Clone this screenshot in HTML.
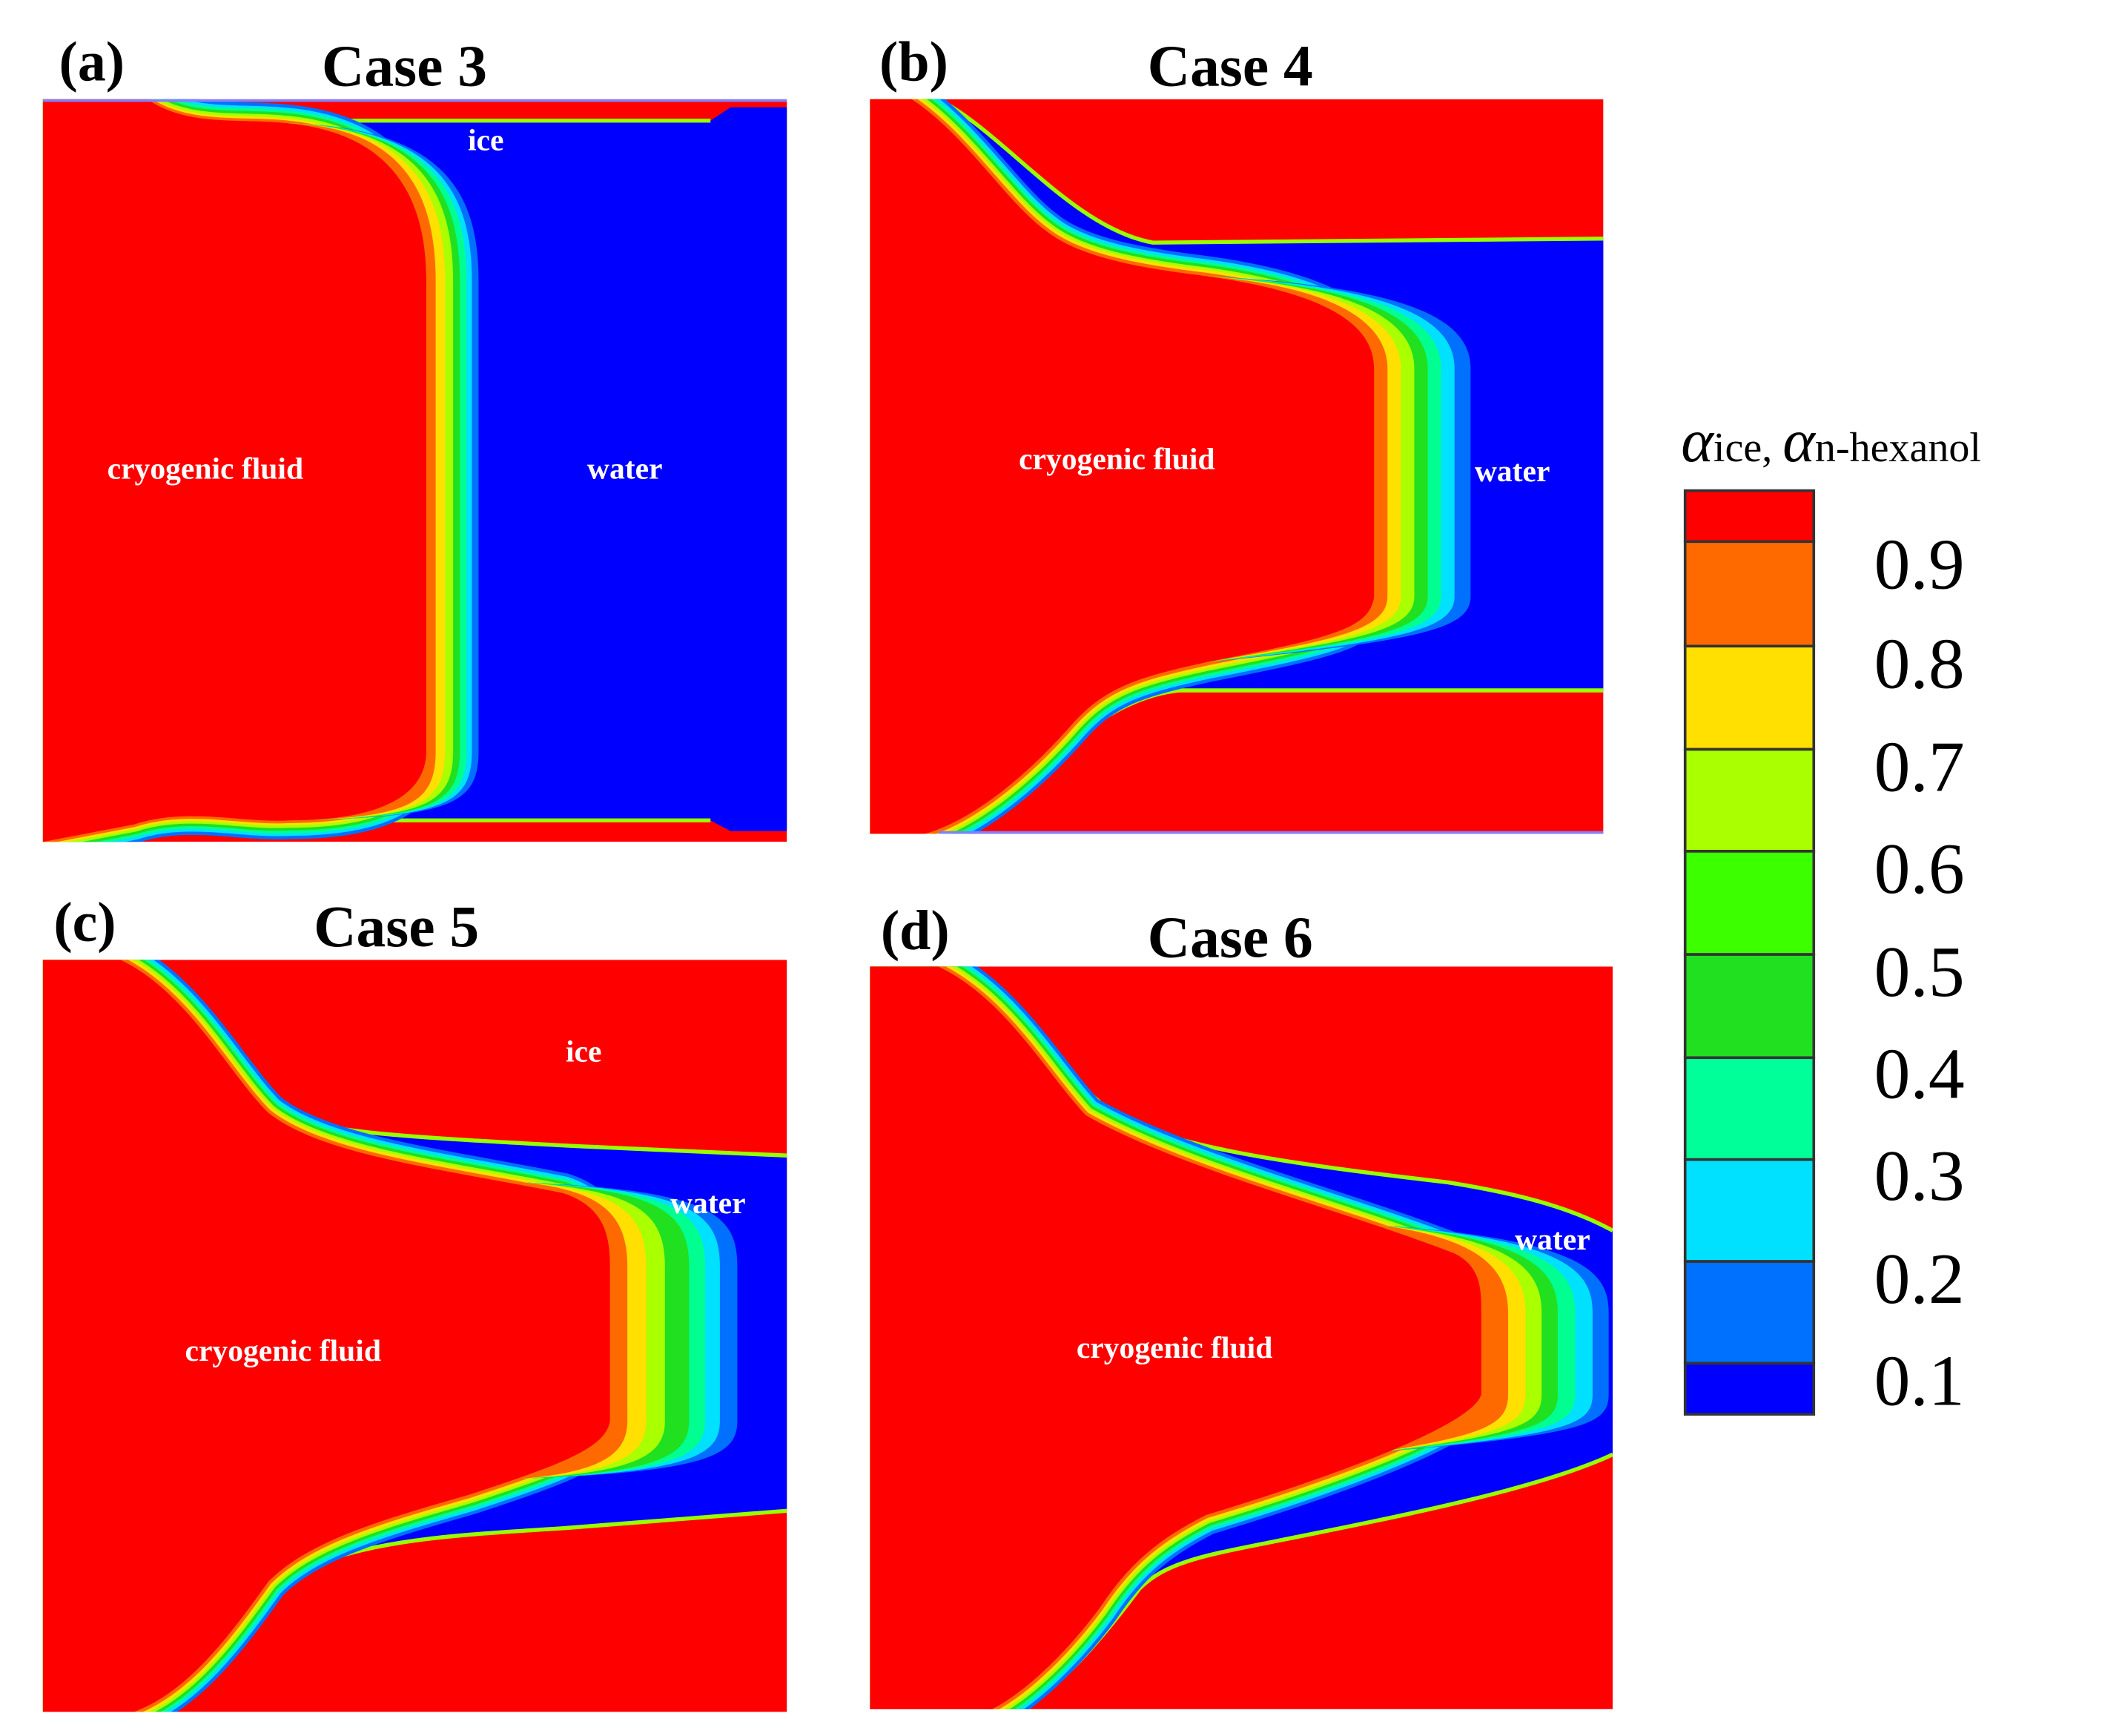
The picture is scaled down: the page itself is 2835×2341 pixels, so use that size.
<!DOCTYPE html>
<html><head><meta charset="utf-8"><style>
html,body{margin:0;padding:0;background:#fff}
svg{display:block}
</style></head><body>
<svg width="2835" height="2341" viewBox="0 0 1568 1295" preserveAspectRatio="none" xmlns="http://www.w3.org/2000/svg">
<defs>
<path id="ca" d="M32,74 L110,74 C140,95 180,88 215,92 C295,100 318,150 318,210 L318,560 C318,600 270,612 215,612 C180,614 140,602 100,615 L32,628 Z"/>
<path id="cb" d="M649,74 L680,74 C720,100 750,150 780,172 C805,192 850,200 900,206 C985,218 1025,240 1025,275 L1025,445 C1022,470 990,476 900,494 C850,505 825,512 800,540 C765,580 725,612 690,622 L649,622 Z"/>
<path id="cc" d="M32,716 L90,716 C140,740 170,800 200,830 C240,862 330,872 420,890 C450,900 455,920 455,945 L455,1060 C452,1080 420,1092 350,1115 C280,1135 230,1150 200,1180 C170,1222 140,1262 100,1277 L32,1277 Z"/>
<path id="cd" d="M649,721 L700,721 C750,745 780,800 810,832 C880,872 1000,902 1085,935 C1105,945 1105,962 1105,980 L1105,1040 C1100,1062 1000,1100 900,1130 C860,1150 840,1170 820,1200 C790,1240 760,1265 740,1275 L649,1275 Z"/>
<clipPath id="pa" clipPathUnits="userSpaceOnUse"><rect x="32" y="74" width="555" height="554"/></clipPath>
<clipPath id="pb" clipPathUnits="userSpaceOnUse"><rect x="649" y="74" width="547" height="548"/></clipPath>
<clipPath id="pc" clipPathUnits="userSpaceOnUse"><rect x="32" y="716" width="555" height="561"/></clipPath>
<clipPath id="pd" clipPathUnits="userSpaceOnUse"><rect x="649" y="721" width="554" height="554"/></clipPath>
</defs>
<rect width="1568" height="1295" fill="#fff"/>

<!-- Panel a -->
<g clip-path="url(#pa)">
<rect x="32" y="74" width="555" height="554" fill="#f00"/>
<path d="M215,90 L530,90 L545,80 L587,80 L587,620 L545,620 L530,612 L215,612 Z" fill="#0000ff"/>
<line x1="220" y1="90" x2="530" y2="90" stroke="#9f0" stroke-width="3"/>
<line x1="220" y1="612" x2="530" y2="612" stroke="#9f0" stroke-width="3"/>
<g fill="none">
<use href="#ca" stroke="#0070ff" stroke-width="28"/>
<use href="#ca" stroke="#00e0ff" stroke-width="23"/>
<use href="#ca" stroke="#00ff90" stroke-width="19"/>
<use href="#ca" stroke="#20e020" stroke-width="15"/>
<use href="#ca" stroke="#aaff00" stroke-width="11"/>
<use href="#ca" stroke="#ffe000" stroke-width="7"/>
<use href="#ca" stroke="#ff6a00" stroke-width="4"/>
</g>
<path fill="#0070ff" d="M215,92 C337,95 357,150 357,210 L357,560 C357,600 337,610 215,612 Z"/>
<path fill="#00e0ff" d="M215,92 C332,95 352,150 352,210 L352,560 C352,600 332,610 215,612 Z"/>
<path fill="#00ff90" d="M215,92 C328,95 348,150 348,210 L348,560 C348,600 328,610 215,612 Z"/>
<path fill="#20e020" d="M215,92 C323,95 343,150 343,210 L343,560 C343,600 323,610 215,612 Z"/>
<path fill="#aaff00" d="M215,92 C318,95 338,150 338,210 L338,560 C338,600 318,610 215,612 Z"/>
<path fill="#ffe000" d="M215,92 C312,95 332,150 332,210 L332,560 C332,600 312,610 215,612 Z"/>
<path fill="#ff6a00" d="M215,92 C305,95 325,150 325,210 L325,560 C325,600 305,610 215,612 Z"/>
<use href="#ca" fill="#f00"/>
<line x1="32" y1="75" x2="587" y2="75" stroke="#8080ff" stroke-width="2"/>
</g>

<!-- Panel b -->
<g clip-path="url(#pb)">
<rect x="649" y="74" width="547" height="548" fill="#f00"/>
<path d="M700,74 C750,100 800,170 860,181 L1196,178 L1196,515 L880,515 C830,520 790,560 760,590 C740,610 720,622 700,622 L649,622 L649,74 Z" fill="#0000ff"/>
<path d="M700,74 C750,100 800,170 860,181 L1196,178" fill="none" stroke="#9f0" stroke-width="3"/>
<path d="M1196,515 L880,515 C830,520 790,560 760,590 C740,610 720,622 700,622" fill="none" stroke="#9f0" stroke-width="3"/>
<g fill="none">
<use href="#cb" stroke="#0070ff" stroke-width="30"/>
<use href="#cb" stroke="#00e0ff" stroke-width="25"/>
<use href="#cb" stroke="#00ff90" stroke-width="21"/>
<use href="#cb" stroke="#20e020" stroke-width="17"/>
<use href="#cb" stroke="#aaff00" stroke-width="13"/>
<use href="#cb" stroke="#ffe000" stroke-width="9"/>
<use href="#cb" stroke="#ff6a00" stroke-width="5"/>
</g>
<path fill="#0070ff" d="M900,206 C1057,214 1097,240 1097,275 L1097,445 C1097,470 1057,478 900,494 Z"/>
<path fill="#00e0ff" d="M900,206 C1045,214 1085,240 1085,275 L1085,445 C1085,470 1045,478 900,494 Z"/>
<path fill="#00ff90" d="M900,206 C1035,214 1075,240 1075,275 L1075,445 C1075,470 1035,478 900,494 Z"/>
<path fill="#20e020" d="M900,206 C1025,214 1065,240 1065,275 L1065,445 C1065,470 1025,478 900,494 Z"/>
<path fill="#aaff00" d="M900,206 C1015,214 1055,240 1055,275 L1055,445 C1055,470 1015,478 900,494 Z"/>
<path fill="#ffe000" d="M900,206 C1005,214 1045,240 1045,275 L1045,445 C1045,470 1005,478 900,494 Z"/>
<path fill="#ff6a00" d="M900,206 C995,214 1035,240 1035,275 L1035,445 C1035,470 995,478 900,494 Z"/>
<use href="#cb" fill="#f00"/>
<line x1="700" y1="621" x2="1196" y2="621" stroke="#8080ff" stroke-width="2"/>
</g>

<!-- Panel c -->
<g clip-path="url(#pc)">
<rect x="32" y="716" width="555" height="561" fill="#f00"/>
<path d="M100,716 C140,740 170,800 210,830 C240,845 300,848 430,855 L587,862 L587,1127 L420,1140 C340,1145 290,1148 240,1165 C200,1185 170,1240 120,1277 L32,1277 L32,716 Z" fill="#0000ff"/>
<path d="M100,716 C140,740 170,800 210,830 C240,845 300,848 430,855 L587,862" fill="none" stroke="#9f0" stroke-width="3"/>
<path d="M587,1127 L420,1140 C340,1145 290,1148 240,1165 C200,1185 170,1240 120,1277" fill="none" stroke="#9f0" stroke-width="3"/>
<g fill="none">
<use href="#cc" stroke="#0070ff" stroke-width="30"/>
<use href="#cc" stroke="#00e0ff" stroke-width="25"/>
<use href="#cc" stroke="#00ff90" stroke-width="21"/>
<use href="#cc" stroke="#20e020" stroke-width="17"/>
<use href="#cc" stroke="#aaff00" stroke-width="13"/>
<use href="#cc" stroke="#ffe000" stroke-width="9"/>
<use href="#cc" stroke="#ff6a00" stroke-width="5"/>
</g>
<path fill="#0070ff" d="M390,882 C530,888 550,905 550,945 L550,1060 C550,1085 530,1098 390,1103 Z"/>
<path fill="#00e0ff" d="M390,882 C517,888 537,905 537,945 L537,1060 C537,1085 517,1098 390,1103 Z"/>
<path fill="#00ff90" d="M390,882 C506,888 526,905 526,945 L526,1060 C526,1085 506,1098 390,1103 Z"/>
<path fill="#20e020" d="M390,882 C494,888 514,905 514,945 L514,1060 C514,1085 494,1098 390,1103 Z"/>
<path fill="#aaff00" d="M390,882 C476,888 496,905 496,945 L496,1060 C496,1085 476,1098 390,1103 Z"/>
<path fill="#ffe000" d="M390,882 C462,888 482,905 482,945 L482,1060 C482,1085 462,1098 390,1103 Z"/>
<path fill="#ff6a00" d="M390,882 C448,888 468,905 468,945 L468,1060 C468,1085 448,1098 390,1103 Z"/>
<use href="#cc" fill="#f00"/>
</g>

<!-- Panel d -->
<g clip-path="url(#pd)">
<rect x="649" y="721" width="554" height="554" fill="#f00"/>
<path d="M720,721 C760,750 790,800 830,830 C870,855 960,868 1080,882 C1130,890 1170,900 1203,918 L1203,1085 C1150,1110 1050,1130 950,1150 C900,1160 870,1165 850,1185 C820,1225 790,1260 760,1275 L649,1275 L649,721 Z" fill="#0000ff"/>
<path d="M720,721 C760,750 790,800 830,830 C870,855 960,868 1080,882 C1130,890 1170,900 1203,918" fill="none" stroke="#9f0" stroke-width="3"/>
<path d="M1203,1085 C1150,1110 1050,1130 950,1150 C900,1160 870,1165 850,1185 C820,1225 790,1260 760,1275" fill="none" stroke="#9f0" stroke-width="3"/>
<g fill="none">
<use href="#cd" stroke="#0070ff" stroke-width="30"/>
<use href="#cd" stroke="#00e0ff" stroke-width="25"/>
<use href="#cd" stroke="#00ff90" stroke-width="21"/>
<use href="#cd" stroke="#20e020" stroke-width="17"/>
<use href="#cd" stroke="#aaff00" stroke-width="13"/>
<use href="#cd" stroke="#ffe000" stroke-width="9"/>
<use href="#cd" stroke="#ff6a00" stroke-width="5"/>
</g>
<path fill="#0070ff" d="M1030,914 C1185,925 1200,950 1200,980 L1200,1040 C1200,1062 1185,1070 1030,1083 Z"/>
<path fill="#00e0ff" d="M1030,914 C1173,925 1188,950 1188,980 L1188,1040 C1188,1062 1173,1070 1030,1083 Z"/>
<path fill="#00ff90" d="M1030,914 C1160,925 1175,950 1175,980 L1175,1040 C1175,1062 1160,1070 1030,1083 Z"/>
<path fill="#20e020" d="M1030,914 C1147,925 1162,950 1162,980 L1162,1040 C1162,1062 1147,1070 1030,1083 Z"/>
<path fill="#aaff00" d="M1030,914 C1135,925 1150,950 1150,980 L1150,1040 C1150,1062 1135,1070 1030,1083 Z"/>
<path fill="#ffe000" d="M1030,914 C1123,925 1138,950 1138,980 L1138,1040 C1138,1062 1123,1070 1030,1083 Z"/>
<path fill="#ff6a00" d="M1030,914 C1110,925 1125,950 1125,980 L1125,1040 C1125,1062 1110,1070 1030,1083 Z"/>
<use href="#cd" fill="#f00"/>
</g>

<!-- labels -->
<g font-family="Liberation Serif, serif" font-weight="bold" fill="#000">
<text x="44" y="60" font-size="42">(a)</text>
<text x="240" y="64" font-size="44">Case 3</text>
<text x="656" y="60" font-size="42">(b)</text>
<text x="856" y="64" font-size="44">Case 4</text>
<text x="40" y="702" font-size="42">(c)</text>
<text x="234" y="706" font-size="44">Case 5</text>
<text x="657" y="708" font-size="42">(d)</text>
<text x="856" y="714" font-size="44">Case 6</text>
</g>
<g font-family="Liberation Serif, serif" font-weight="bold" fill="#fff" font-size="23">
<text x="349" y="112">ice</text>
<text x="80" y="357">cryogenic fluid</text>
<text x="438" y="357">water</text>
<text x="760" y="350">cryogenic fluid</text>
<text x="1100" y="359">water</text>
<text x="422" y="792">ice</text>
<text x="500" y="905">water</text>
<text x="138" y="1015">cryogenic fluid</text>
<text x="1130" y="932">water</text>
<text x="803" y="1013">cryogenic fluid</text>
</g>

<!-- colorbar -->
<text x="1254" y="344" font-family="Liberation Serif, serif" fill="#000"><tspan font-style="italic" font-size="46">α</tspan><tspan font-size="31">ice, </tspan><tspan font-style="italic" font-size="46">α</tspan><tspan font-size="31">n-hexanol</tspan></text>
<g stroke="#333" stroke-width="2">
<rect x="1257" y="366" width="96" height="38" fill="#f00"/>
<rect x="1257" y="404" width="96" height="78" fill="#ff6a00"/>
<rect x="1257" y="482" width="96" height="77" fill="#ffe000"/>
<rect x="1257" y="559" width="96" height="76" fill="#aaff00"/>
<rect x="1257" y="635" width="96" height="77" fill="#3cff00"/>
<rect x="1257" y="712" width="96" height="77" fill="#20e020"/>
<rect x="1257" y="789" width="96" height="76" fill="#00ff99"/>
<rect x="1257" y="865" width="96" height="76" fill="#00e0ff"/>
<rect x="1257" y="941" width="96" height="76" fill="#0070ff"/>
<rect x="1257" y="1017" width="96" height="38" fill="#0000ff"/>
</g>
<g font-family="Liberation Serif, serif" font-size="54" fill="#000">
<text x="1398" y="439">0.9</text>
<text x="1398" y="513">0.8</text>
<text x="1398" y="590">0.7</text>
<text x="1398" y="666">0.6</text>
<text x="1398" y="743">0.5</text>
<text x="1398" y="819">0.4</text>
<text x="1398" y="895">0.3</text>
<text x="1398" y="972">0.2</text>
<text x="1398" y="1048">0.1</text>
</g>
</svg>
</body></html>
